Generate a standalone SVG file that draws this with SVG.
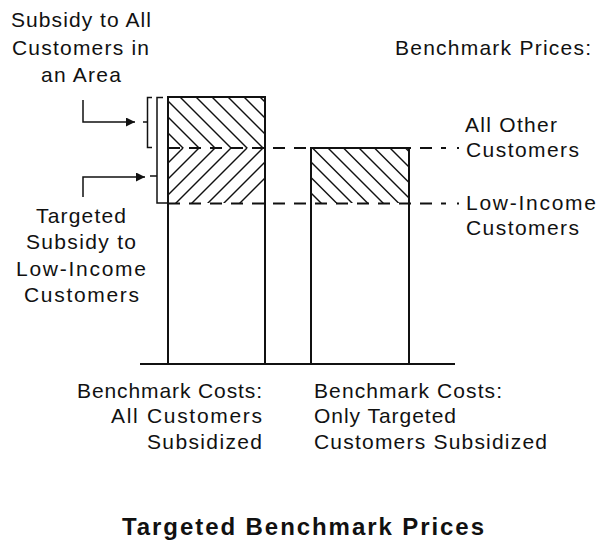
<svg xmlns="http://www.w3.org/2000/svg" width="599" height="542" viewBox="0 0 599 542">
<style>
  text { font-family: "Liberation Sans", Arial, sans-serif; font-size: 21px; fill: #111; }
  .title { font-weight: bold; font-size: 24px; }
  .edge { stroke: #111; stroke-width: 2; fill: none; }
  .hatch { stroke: #111; stroke-width: 1.4; fill: none; }
  .dash { stroke: #111; stroke-width: 2; fill: none; stroke-dasharray: 12 9; }
  .thin { stroke: #111; stroke-width: 1.5; fill: none; }
</style>
<defs>
  <marker id="arr" viewBox="0 0 10 10" refX="10" refY="5" markerWidth="15" markerHeight="9" markerUnits="userSpaceOnUse" orient="auto">
    <path d="M0,0 L10,5 L0,10 Z" fill="#111"/>
  </marker>
  <clipPath id="cUpper"><rect x="168" y="97" width="97" height="51"/></clipPath>
  <clipPath id="cLower"><rect x="168" y="148" width="97" height="55"/></clipPath>
  <clipPath id="cRight"><rect x="311" y="148" width="98" height="55"/></clipPath>
</defs>

<!-- left bar: all customers subsidized -->
<g id="bar-all">
  <g class="hatch" clip-path="url(#cUpper)">
    <line x1="100" y1="81" x2="183" y2="164"/>
    <line x1="116" y1="81" x2="199" y2="164"/>
    <line x1="132" y1="81" x2="215" y2="164"/>
    <line x1="148" y1="81" x2="231" y2="164"/>
    <line x1="164" y1="81" x2="247" y2="164"/>
    <line x1="180" y1="81" x2="263" y2="164"/>
    <line x1="196" y1="81" x2="279" y2="164"/>
    <line x1="212" y1="81" x2="295" y2="164"/>
    <line x1="228" y1="81" x2="311" y2="164"/>
    <line x1="244" y1="81" x2="327" y2="164"/>
    <line x1="260" y1="81" x2="343" y2="164"/>
  </g>
  <g class="hatch" clip-path="url(#cLower)">
    <line x1="183" y1="148" x2="113" y2="218"/>
    <line x1="199" y1="148" x2="129" y2="218"/>
    <line x1="215" y1="148" x2="145" y2="218"/>
    <line x1="231" y1="148" x2="161" y2="218"/>
    <line x1="247" y1="148" x2="177" y2="218"/>
    <line x1="263" y1="148" x2="193" y2="218"/>
    <line x1="279" y1="148" x2="209" y2="218"/>
    <line x1="295" y1="148" x2="225" y2="218"/>
  </g>
  <path class="edge" d="M168,364 V97 H265 V364"/>
</g>

<!-- right bar: only targeted customers subsidized -->
<g id="bar-targeted">
  <g class="hatch" clip-path="url(#cRight)">
    <line x1="251" y1="133" x2="336" y2="218"/>
    <line x1="266.5" y1="133" x2="351.5" y2="218"/>
    <line x1="282" y1="133" x2="367" y2="218"/>
    <line x1="297.5" y1="133" x2="382.5" y2="218"/>
    <line x1="313" y1="133" x2="398" y2="218"/>
    <line x1="328.5" y1="133" x2="413.5" y2="218"/>
    <line x1="344" y1="133" x2="429" y2="218"/>
    <line x1="359.5" y1="133" x2="444.5" y2="218"/>
    <line x1="375" y1="133" x2="460" y2="218"/>
    <line x1="390.5" y1="133" x2="475.5" y2="218"/>
  </g>
  <path class="edge" d="M311,364 V148 H409 V364"/>
</g>

<!-- connectors: price levels, baseline, brackets, arrows -->
<g id="connectors">
  <line class="dash" x1="168" y1="148" x2="446" y2="148"/>
  <line class="dash" x1="168" y1="203.5" x2="446" y2="203.5"/>
  <line class="edge" x1="457" y1="148" x2="459" y2="148"/>
  <line class="edge" x1="457" y1="203.5" x2="459" y2="203.5"/>
  <line class="edge" x1="140" y1="364" x2="455" y2="364"/>
  <!-- inner bracket -->
  <path class="thin" d="M152,97.5 H147.5 V147.5 H152 M147.5,122 H143"/>
  <!-- outer bracket -->
  <path class="thin" d="M163,97.5 H157 V203 H168 M157,176 H150"/>
  <!-- arrows -->
  <path class="thin" d="M83,100 V122 H135" marker-end="url(#arr)"/>
  <path class="thin" d="M83,197 V177 H145" marker-end="url(#arr)"/>
</g>

<g id="label-subsidy-all">
  <text x="11" y="27" textLength="140" lengthAdjust="spacing">Subsidy to All</text>
  <text x="12" y="55" textLength="137" lengthAdjust="spacing">Customers in</text>
  <text x="41" y="82" textLength="80" lengthAdjust="spacing">an Area</text>
</g>

<g id="label-targeted-subsidy">
  <text x="36" y="223" textLength="90" lengthAdjust="spacing">Targeted</text>
  <text x="26" y="249" textLength="110" lengthAdjust="spacing">Subsidy to</text>
  <text x="16" y="276" textLength="130" lengthAdjust="spacing">Low-Income</text>
  <text x="24" y="302" textLength="115" lengthAdjust="spacing">Customers</text>
</g>

<g id="label-prices">
  <text x="395" y="55" textLength="196" lengthAdjust="spacing">Benchmark Prices:</text>
  <text x="465" y="132" textLength="92" lengthAdjust="spacing">All Other</text>
  <text x="466" y="157" textLength="113" lengthAdjust="spacing">Customers</text>
  <text x="466" y="210" textLength="130" lengthAdjust="spacing">Low-Income</text>
  <text x="466" y="235" textLength="113" lengthAdjust="spacing">Customers</text>
</g>

<g id="label-costs-all">
  <text x="77" y="398" textLength="185" lengthAdjust="spacing">Benchmark Costs:</text>
  <text x="111" y="423" textLength="151" lengthAdjust="spacing">All Customers</text>
  <text x="147" y="449" textLength="115" lengthAdjust="spacing">Subsidized</text>
</g>

<g id="label-costs-targeted">
  <text x="314" y="398" textLength="188" lengthAdjust="spacing">Benchmark Costs:</text>
  <text x="314" y="423" textLength="142" lengthAdjust="spacing">Only Targeted</text>
  <text x="314" y="449" textLength="233" lengthAdjust="spacing">Customers Subsidized</text>
</g>

<g id="title">
  <text class="title" x="122" y="535" textLength="362" lengthAdjust="spacing">Targeted Benchmark Prices</text>
</g>
</svg>
